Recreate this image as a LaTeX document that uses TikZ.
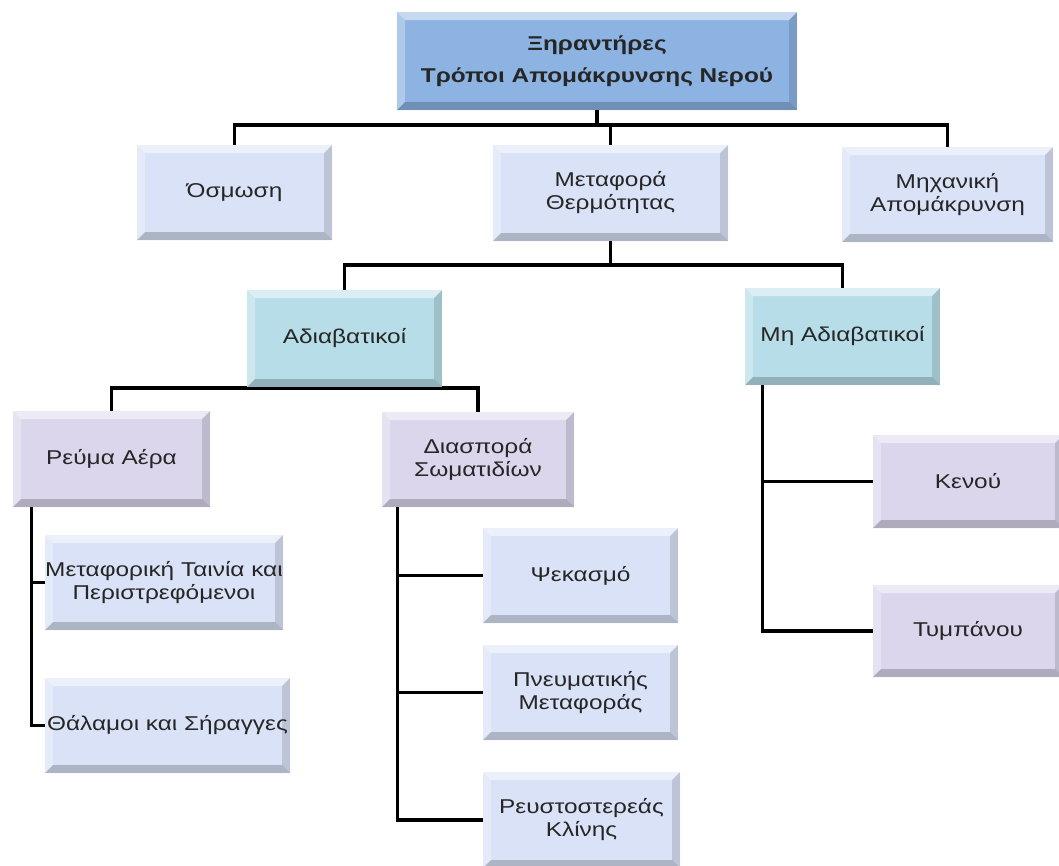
\documentclass[tikz,border=0pt]{standalone}
\usepackage{fontspec}
\newfontfamily\gfont[FakeStretch=1.22]{Liberation Sans}
\usetikzlibrary{backgrounds}
\definecolor{rootc}{HTML}{8DB3E2}
\definecolor{lblue}{HTML}{D9E2F6}
\definecolor{cyanc}{HTML}{B7DDE8}
\definecolor{lavc}{HTML}{DBD6EC}
\definecolor{txt}{HTML}{262626}
\tikzset{
  bevel/.style={path picture={
    \fill[white,opacity=.5] (path picture bounding box.north west) -- (path picture bounding box.north east) -- ([shift={(-8pt,-8pt)}]path picture bounding box.north east) -- ([shift={(8pt,-8pt)}]path picture bounding box.north west) -- cycle;
    \fill[white,opacity=.3] (path picture bounding box.north west) -- ([shift={(8pt,-8pt)}]path picture bounding box.north west) -- ([shift={(8pt,8pt)}]path picture bounding box.south west) -- (path picture bounding box.south west) -- cycle;
    \fill[black,opacity=.2] (path picture bounding box.south west) -- ([shift={(8pt,8pt)}]path picture bounding box.south west) -- ([shift={(-8pt,8pt)}]path picture bounding box.south east) -- (path picture bounding box.south east) -- cycle;
    \fill[black,opacity=.13] (path picture bounding box.north east) -- (path picture bounding box.south east) -- ([shift={(-8pt,8pt)}]path picture bounding box.south east) -- ([shift={(-8pt,-8pt)}]path picture bounding box.north east) -- cycle;
  }},
  box/.style={rectangle, inner sep=0pt, align=center, text=txt, bevel,
    font=\gfont\fontsize{20}{23}\selectfont},
  conn/.style={line width=3.2pt, black, line cap=rect}
}
\begin{document}
\begin{tikzpicture}[x=1pt,y=-1pt]
\useasboundingbox (0,0) rectangle (1059,865);
% nodes
\node[box, fill=rootc, minimum width=400pt, minimum height=98pt,
      font=\gfont\bfseries\fontsize{20}{32}\selectfont] (root) at (597,61) {Ξηραντήρες\\Τρόποι Απομάκρυνσης Νερού};
\node[box, fill=lblue, minimum width=195pt, minimum height=95pt] (osm) at (234.5,192.5) {Όσμωση};
\node[box, fill=lblue, minimum width=235pt, minimum height=96pt] (meta) at (610.5,193) {Μεταφορά\\Θερμότητας};
\node[box, fill=lblue, minimum width=211pt, minimum height=95pt] (mech) at (947.5,194.5) {Μηχανική\\Απομάκρυνση};
\node[box, fill=cyanc, minimum width=195pt, minimum height=97pt] (adi) at (344.5,338.5) {Αδιαβατικοί};
\node[box, fill=cyanc, minimum width=195pt, minimum height=97pt] (nadi) at (842.5,336.5) {Μη Αδιαβατικοί};
\node[box, fill=lavc, minimum width=197pt, minimum height=96pt] (revma) at (111.5,459) {Ρεύμα Αέρα};
\node[box, fill=lavc, minimum width=192pt, minimum height=95pt] (diasp) at (478,459.5) {Διασπορά\\Σωματιδίων};
\node[box, fill=lblue, minimum width=238pt, minimum height=95pt] (metaf) at (164,582.5) {Μεταφορική Ταινία και\\Περιστρεφόμενοι};
\node[box, fill=lblue, minimum width=245pt, minimum height=95pt] (thal) at (167.5,725.5) {Θάλαμοι και Σήραγγες};
\node[box, fill=lblue, minimum width=195pt, minimum height=95pt] (psek) at (580.5,575.5) {Ψεκασμό};
\node[box, fill=lblue, minimum width=195pt, minimum height=95pt] (pneu) at (580.5,692.5) {Πνευματικής\\Μεταφοράς};
\node[box, fill=lblue, minimum width=197pt, minimum height=96pt] (reust) at (581.5,820) {Ρευστοστερεάς\\Κλίνης};
\node[box, fill=lavc, minimum width=190pt, minimum height=93pt] (kenou) at (968,481.5) {Κενού};
\node[box, fill=lavc, minimum width=190pt, minimum height=92pt] (tymp) at (968,631) {Τυμπάνου};
% connectors
\begin{scope}[on background layer]
\fill[white] (0,0) rectangle (1059,865);
\coordinate (b1) at (0,125);
\coordinate (b2) at (0,265);
\coordinate (b3) at (0,388);
\draw[conn] (root.south) -- (root.south |- b1);
\draw[conn] (osm.north) -- (osm.north |- b1) -| (mech.north);
\draw[conn] (meta.north) -- (meta.north |- b1);
\draw[conn] (meta.south) -- (meta.south |- b2);
\draw[conn] (adi.north) -- (adi.north |- b2) -| (nadi.north);
\draw[conn] (revma.north) -- (revma.north |- b3) -| (diasp.north);
\draw[conn] ([xshift=19pt]revma.south west) |- (metaf.west);
\draw[conn] ([xshift=19pt]revma.south west) |- (thal.west);
\draw[conn] ([xshift=16pt]diasp.south west) |- (psek.west);
\draw[conn] ([xshift=16pt]diasp.south west) |- (pneu.west);
\draw[conn] ([xshift=16pt]diasp.south west) |- (reust.west);
\draw[conn] ([xshift=18pt]nadi.south west) |- (kenou.west);
\draw[conn] ([xshift=18pt]nadi.south west) |- (tymp.west);
\end{scope}
\end{tikzpicture}
\end{document}
